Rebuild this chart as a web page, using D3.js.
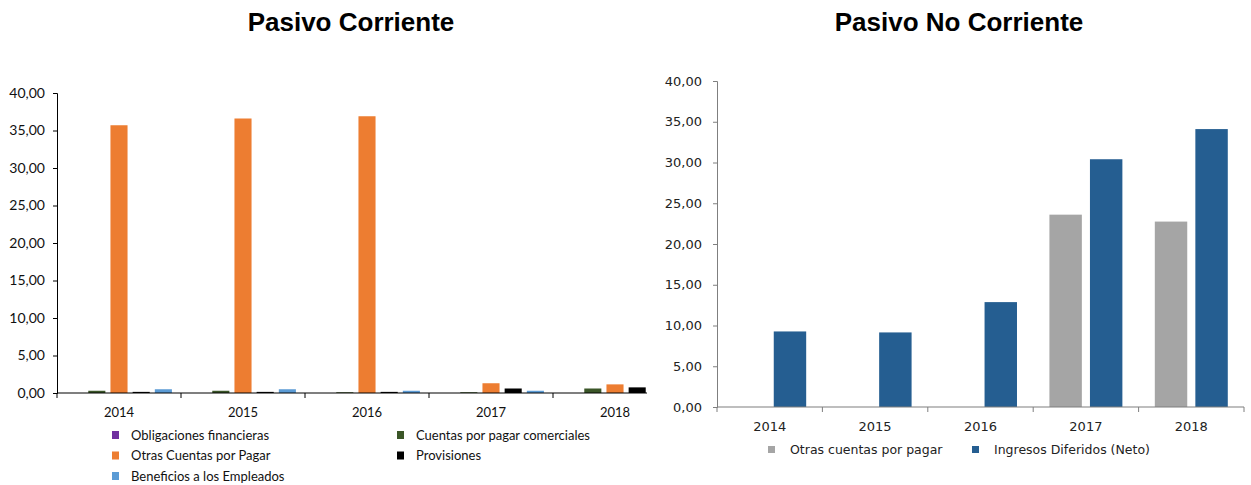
<!DOCTYPE html>
<html>
<head>
<meta charset="utf-8">
<script src="https://cdn.jsdelivr.net/npm/d3@7"></script>
<style>
  html, body { margin: 0; padding: 0; background: #fff; }
  svg { display: block; }
</style>
</head>
<body>
<svg id="chart" width="1251" height="485"></svg>
<script>
// ---- Pasivo Corriente ----
const years = ["2014", "2015", "2016", "2017", "2018"];
const corrSeries = ["Obligaciones financieras", "Cuentas por pagar comerciales", "Otras Cuentas por Pagar", "Provisiones", "Beneficios a los Empleados"];
const obligaciones = [0, 0, 0, 0, 0];
const cuentasComerciales = [0.3, 0.3, 0.1, 0.1, 0.6];
const otrasCuentasCorr = [35.7, 36.6, 36.9, 1.3, 1.15];
const provisiones = [0.15, 0.15, 0.15, 0.6, 0.75];
const beneficios = [0.5, 0.5, 0.3, 0.3, 0.3];
const corrColors = ["#7030A0", "#3B5628", "#ED7D31", "#000000", "#5B9BD5"];
const corrTicks = [0, 5, 10, 15, 20, 25, 30, 35, 40];

// ---- Pasivo No Corriente ----
const noCorrSeries = ["Otras cuentas por pagar", "Ingresos Diferidos (Neto)"];
const otrasCuentasNoCorr = [0, 0, 0, 23.6, 22.75];
const ingresosDiferidos = [9.27, 9.15, 12.87, 30.4, 34.1];
const noCorrColors = ["#A5A5A5", "#255E91"];
const noCorrTicks = [0, 5, 10, 15, 20, 25, 30, 35, 40];

const fmt = v => d3.format(".2f")(v).replace(".", ",");
const svg = d3.select("#chart");

// ================= Left chart =================
{
  const values = [obligaciones, cuentasComerciales, otrasCuentasCorr, provisiones, beneficios];
  const left = 57, right = 677, visibleRight = 647, top = 93, bottom = 393;
  const x = d3.scaleBand().domain(years).range([left, right]).padding(0);
  const xs = d3.scaleBand().domain(corrSeries).range([0, x.bandwidth()])
    .paddingInner(0.23).paddingOuter(0.41);
  const y = d3.scaleLinear().domain([0, 40]).range([bottom, top]);

  svg.append("text").attr("x", 351).attr("y", 31).attr("text-anchor", "middle")
    .attr("font-family", "Liberation Sans, Arial, sans-serif").attr("font-weight", "bold")
    .attr("font-size", 26).attr("fill", "#000").text("Pasivo Corriente");

  // the plot area stops short of the last category's right edge
  svg.append("defs").append("clipPath").attr("id", "clipLeft")
    .append("rect").attr("x", 0).attr("y", 0).attr("width", visibleRight).attr("height", 485);

  const g = svg.append("g").attr("clip-path", "url(#clipLeft)");
  years.forEach((yr, i) => {
    corrSeries.forEach((s, j) => {
      const v = values[j][i];
      g.append("rect")
        .attr("x", x(yr) + xs(s))
        .attr("y", y(v))
        .attr("width", xs.bandwidth())
        .attr("height", y(0) - y(v))
        .attr("fill", corrColors[j]);
    });
  });

  // y axis
  const yAxis = d3.axisLeft(y).tickValues(corrTicks).tickFormat(fmt).tickSize(4).tickPadding(8);
  const ya = svg.append("g").attr("transform", `translate(${left},0)`).call(yAxis);
  ya.select(".domain").attr("stroke", "#000");
  ya.selectAll(".tick line").attr("stroke", "#000");
  ya.selectAll("text").attr("font-family", "Lato, sans-serif").attr("font-size", 14).attr("fill", "#111");

  // x axis line and boundary ticks
  svg.append("line").attr("x1", left).attr("x2", visibleRight).attr("y1", bottom).attr("y2", bottom)
    .attr("stroke", "#000").attr("stroke-width", 1.2);
  years.forEach(yr => {
    const bx = x(yr);
    svg.append("line").attr("x1", bx).attr("x2", bx).attr("y1", bottom).attr("y2", bottom + 5)
      .attr("stroke", "#000");
  });
  years.forEach(yr => {
    svg.append("text").attr("x", x(yr) + x.bandwidth() / 2).attr("y", 417)
      .attr("text-anchor", "middle").attr("font-family", "Lato, sans-serif")
      .attr("font-size", 13).attr("fill", "#111").text(yr);
  });

  // legend, two columns
  const legendPos = [
    [112, 435], [397, 435], [112, 455.5], [397, 455.5], [112, 476]
  ];
  corrSeries.forEach((s, j) => {
    const [lx, ly] = legendPos[j];
    svg.append("rect").attr("x", lx).attr("y", ly - 4).attr("width", 7).attr("height", 8)
      .attr("fill", corrColors[j]);
    svg.append("text").attr("x", lx + 19).attr("y", ly).attr("dy", "0.35em")
      .attr("font-family", "Lato, sans-serif").attr("font-size", 13).attr("fill", "#111")
      .text(s);
  });
}

// ================= Right chart =================
{
  const values = [otrasCuentasNoCorr, ingresosDiferidos];
  const left = 717, right = 1244, top = 81, bottom = 407;
  const x = d3.scaleBand().domain(years).range([left, right]).padding(0);
  const xs = d3.scaleBand().domain(noCorrSeries).range([0, x.bandwidth()])
    .paddingInner(0.2).paddingOuter(0.4);
  const y = d3.scaleLinear().domain([0, 40]).range([bottom, top]);
  const axisColor = "#7F7F7F";

  svg.append("text").attr("x", 959).attr("y", 31).attr("text-anchor", "middle")
    .attr("font-family", "Liberation Sans, Arial, sans-serif").attr("font-weight", "bold")
    .attr("font-size", 26).attr("fill", "#000").text("Pasivo No Corriente");

  years.forEach((yr, i) => {
    noCorrSeries.forEach((s, j) => {
      const v = values[j][i];
      svg.append("rect")
        .attr("x", x(yr) + xs(s))
        .attr("y", y(v))
        .attr("width", xs.bandwidth())
        .attr("height", y(0) - y(v))
        .attr("fill", noCorrColors[j]);
    });
  });

  const yAxis = d3.axisLeft(y).tickValues(noCorrTicks).tickFormat(fmt).tickSize(4).tickPadding(11);
  const ya = svg.append("g").attr("transform", `translate(${left},0)`).call(yAxis);
  ya.select(".domain").attr("stroke", axisColor);
  ya.selectAll(".tick line").attr("stroke", axisColor);
  ya.selectAll("text").attr("font-family", "DejaVu Sans, Verdana, sans-serif").attr("font-size", 13).attr("fill", "#222");

  svg.append("line").attr("x1", left).attr("x2", right).attr("y1", bottom).attr("y2", bottom)
    .attr("stroke", axisColor).attr("stroke-width", 1.2);
  years.concat(["end"]).forEach((yr, i) => {
    const bx = i < years.length ? x(yr) : right;
    svg.append("line").attr("x1", bx).attr("x2", bx).attr("y1", bottom).attr("y2", bottom + 5)
      .attr("stroke", axisColor);
  });
  years.forEach(yr => {
    svg.append("text").attr("x", x(yr) + x.bandwidth() / 2).attr("y", 431)
      .attr("text-anchor", "middle").attr("font-family", "DejaVu Sans, Verdana, sans-serif")
      .attr("font-size", 13).attr("fill", "#222").text(yr);
  });

  const legendPos = [[768, 450], [972, 450]];
  noCorrSeries.forEach((s, j) => {
    const [lx, ly] = legendPos[j];
    svg.append("rect").attr("x", lx).attr("y", ly - 4).attr("width", 7).attr("height", 7)
      .attr("fill", noCorrColors[j]);
    svg.append("text").attr("x", lx + 22).attr("y", ly).attr("dy", "0.35em")
      .attr("font-family", "DejaVu Sans, Verdana, sans-serif").attr("font-size", 12.5)
      .attr("fill", "#222").text(s);
  });
}
</script>
</body>
</html>
